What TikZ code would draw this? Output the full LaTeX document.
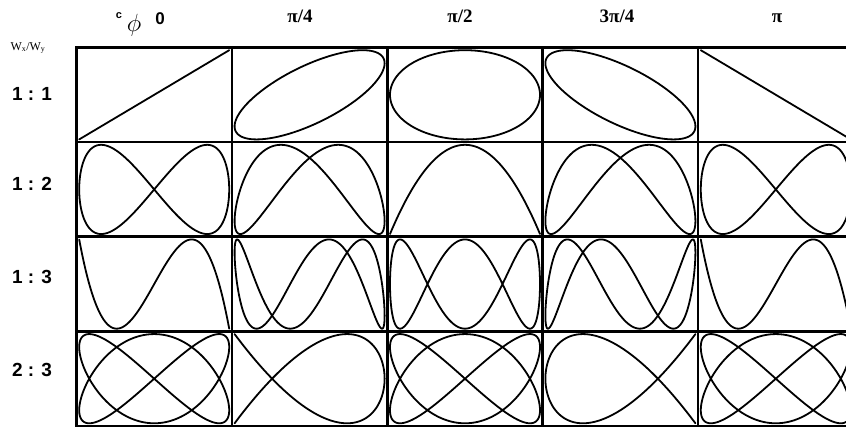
\documentclass[tikz,border=0pt]{standalone}
\usepackage{fontspec}
\setmainfont{Liberation Serif}
\newfontfamily\hdsans{Liberation Sans}
\begin{document}
\begin{tikzpicture}[x=1pt,y=-1pt,
  gridline/.style={line width=2.5pt, line cap=rect},
  curve/.style={line width=1.8pt, line join=round},
  rowlab/.style={inner sep=0pt, anchor=base, font=\hdsans\bfseries\fontsize{19}{19}\selectfont},
  collab/.style={inner sep=0pt, anchor=base, font=\bfseries\fontsize{19}{19}\selectfont}]
\useasboundingbox (0,0) rectangle (846,430);
\begin{scope}
\clip (0,0) rectangle (846,430);
% Lissajous curves: x = sin(a t), y = sin(b t + phi)
\foreach \r/\a/\b in {0/1/1,1/1/2,2/1/3,3/2/3}{
  \foreach \c/\p in {0/0,1/45,2/90,3/135,4/180}{
    \pgfmathsetmacro\pp{ifthenelse(and(\r==2,\c==4),0,\p)}
    \pgfmathsetmacro\cx{76.5+155.4*\c+77.7}
    \pgfmathsetmacro\cy{47.5+94.625*\r+47.31}
    \draw[curve] plot[domain=0:360,samples=721,variable=\t]
      ({\cx+75.0*sin(\a*\t)},{\cy-44.6*sin(\b*\t+\pp)});
  }
}
% grid
\foreach \r in {0,...,4}{
  \draw[gridline] (76.5,{47.5+94.625*\r}) -- (870,{47.5+94.625*\r});
}
\foreach \c in {0,...,5}{
  \draw[gridline] ({76.5+155.4*\c},47.5) -- ({76.5+155.4*\c},426);
}
\end{scope}
% column headers
\node[inner sep=0pt] (hc) at (119,16) {\hdsans\bfseries\fontsize{11}{11}\selectfont c};
\node[inner sep=0pt] (hphi) at (134,25) {\fontsize{30}{30}\selectfont$\phi$};
\node[inner sep=0pt, anchor=base, font=\hdsans\bfseries\fontsize{17}{17}\selectfont] (h0) at (160,25) {0};
\node[collab] (h1) at (300,23) {π/4};
\node[collab] (h2) at (460,23) {π/2};
\node[collab] (h3) at (617,23) {3π/4};
\node[collab] (h4) at (777,23) {π};
% row headers
\node[inner sep=0pt, font=\fontsize{12}{12}\selectfont] (wlab) at (28,48) {W\textsubscript{x}/W\textsubscript{y}};
\node[rowlab] (r0) at (32,101) {1 : 1};
\node[rowlab] (r1) at (32,191) {1 : 2};
\node[rowlab] (r2) at (32,284) {1 : 3};
\node[rowlab] (r3) at (32,376) {2 : 3};
\end{tikzpicture}
\end{document}
